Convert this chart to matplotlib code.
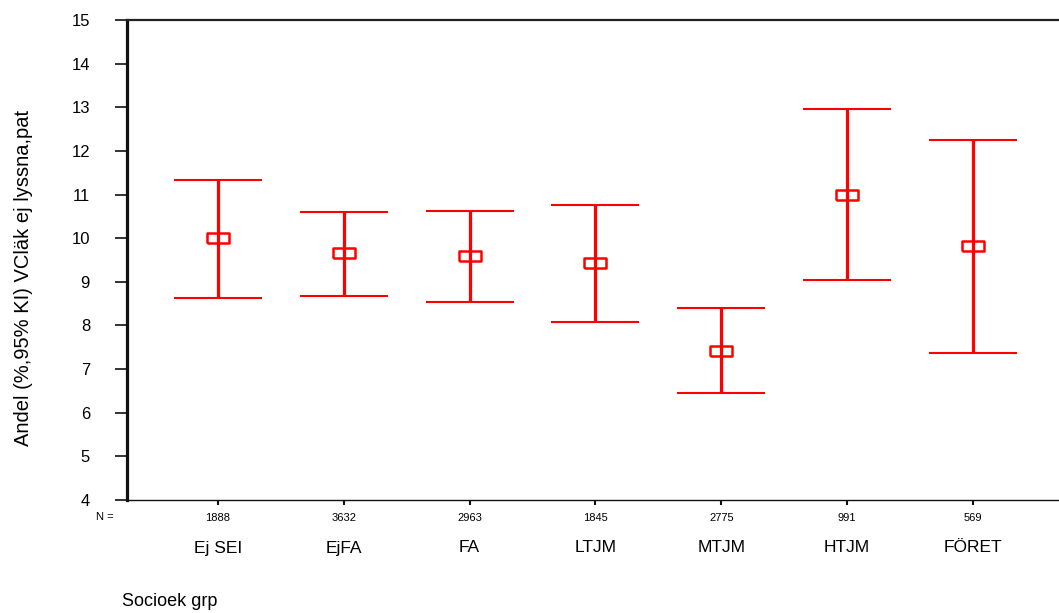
import numpy as np
import matplotlib
matplotlib.use("Agg")
import matplotlib.pyplot as plt
from matplotlib import transforms

# Data
groups = ["Ej SEI", "EjFA", "FA", "LTJM", "MTJM", "HTJM", "FÖRET"]
counts = [1888, 3632, 2963, 1845, 2775, 991, 569]
means = [10.01, 9.65, 9.60, 9.42, 7.41, 11.00, 9.81]
upper = [11.34, 10.59, 10.63, 10.77, 8.39, 12.96, 12.26]
lower = [8.64, 8.67, 8.53, 8.09, 6.45, 9.05, 7.36]

W, H = 1059, 613
fig = plt.figure(figsize=(W / 100, H / 100), dpi=100)
ax = fig.add_axes([127 / W, (H - 500) / H, (W - 127) / W, 480 / H])

x = np.arange(1, len(groups) + 1)
means = np.array(means)
yerr = [means - np.array(lower), np.array(upper) - means]

red = "#ff0000"
ax.errorbar(x, means, yerr=yerr, fmt="none", ecolor=red, elinewidth=2.3,
            capsize=32, capthick=1.5, zorder=2)
rect = [(-1, -0.5), (1, -0.5), (1, 0.5), (-1, 0.5), (-1, -0.5)]
ax.plot(x, means, linestyle="none", marker=rect, markersize=15.5,
        markerfacecolor="none", markeredgecolor=red, markeredgewidth=1.8, zorder=3)

ax.set_xlim(0.278, 7.683)
ax.set_ylim(4, 15)
ax.set_yticks(range(4, 16))

font = "Liberation Sans"
ax.set_yticklabels([str(v) for v in range(4, 16)], fontsize=12, family=font)
ax.set_xticks(x)
ax.set_xticklabels([str(c) for c in counts], fontsize=8, family=font)

ax.tick_params(axis="y", direction="out", length=8.6, width=1.2, pad=18, color="#111111")
ax.tick_params(axis="x", direction="out", length=3.6, width=1.5, pad=6, color="#111111")

ax.spines["right"].set_visible(False)
ax.spines["left"].set_linewidth(2.3)
ax.spines["left"].set_color("#111111")
ax.spines["top"].set_linewidth(1.6)
ax.spines["top"].set_color("#222222")
ax.spines["bottom"].set_linewidth(1.0)
ax.spines["bottom"].set_color("#111111")

trans = transforms.blended_transform_factory(ax.transData, fig.transFigure)
for xi, g in zip(x, groups):
    ax.text(xi, 1 - 548 / H, g, transform=trans, ha="center", va="center",
            fontsize=12.5, family=font)

fig.text(105 / W, 1 - 517 / H, "N =", ha="center", va="center", fontsize=8, family=font)
fig.text(122 / W, 1 - 601 / H, "Socioek grp", ha="left", va="center", fontsize=13, family=font)
fig.text(24 / W, 1 - 278 / H, "Andel (%,95% KI) VCläk ej lyssna,pat", rotation=90,
         ha="center", va="center", fontsize=14.5, family=font)

fig.savefig("out.png", dpi=100)
